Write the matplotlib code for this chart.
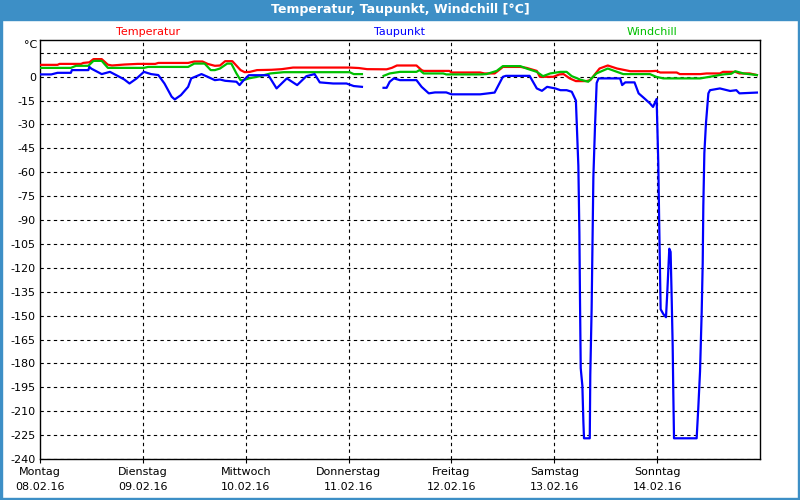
import numpy as np
import matplotlib.pyplot as plt
from matplotlib.patches import Rectangle

nan = np.nan

# Zeit in Tagen ab Montag 08.02.16 00:00
days = ["Montag", "Dienstag", "Mittwoch", "Donnerstag", "Freitag", "Samstag", "Sonntag"]
dates = ["08.02.16", "09.02.16", "10.02.16", "11.02.16", "12.02.16", "13.02.16", "14.02.16"]

temp_t = [0, 0.17, 0.19, 0.40, 0.42, 0.48, 0.52, 0.60, 0.66, 0.70, 0.82, 0.95, 1.12, 1.15,
          1.44, 1.50, 1.58, 1.63, 1.70, 1.75, 1.80, 1.87, 1.95, 1.99, 2.04, 2.11, 2.25, 2.35,
          2.46, 3.01, 3.10, 3.18, 3.37, 3.42, 3.47, 3.66, 3.71, 3.73, 3.98, 4.00, 4.28, 4.32,
          4.42, 4.48, 4.50, 4.67, 4.73, 4.83, 4.86, 4.99, 5.05, 5.09, 5.15, 5.21, 5.31, 5.35,
          5.44, 5.52, 5.61, 5.74, 5.93, 5.99, 6.03, 6.19, 6.22, 6.42, 6.48, 6.61, 6.64, 6.76,
          6.80, 6.90, 6.97]
temp = [7.4, 7.4, 8.0, 8.0, 8.6, 9.0, 11.0, 11.0, 7.5, 7.0, 7.6, 8.0, 8.0, 8.6,
        8.6, 9.5, 9.5, 8.0, 6.8, 7.0, 9.7, 9.7, 4.1, 2.8, 3.0, 4.1, 4.3, 4.7,
        5.7, 5.7, 5.4, 4.7, 4.6, 5.5, 7.0, 7.0, 4.1, 3.6, 3.6, 2.6, 2.6, 2.0,
        2.0, 5.0, 6.1, 6.1, 5.5, 3.6, -0.1, -0.1, 1.4, 1.6, -1.1, -2.8, -2.8, -2.2,
        5.1, 7.0, 5.1, 3.4, 3.4, 3.6, 2.6, 2.6, 1.6, 1.6, 2.0, 2.0, 3.0, 3.0,
        2.0, 2.0, 1.0]

dew_t = [0, 0.11, 0.17, 0.30, 0.31, 0.47, 0.48, 0.50, 0.60, 0.68, 0.76, 0.82, 0.87, 0.94,
         1.01, 1.08, 1.15, 1.21, 1.28, 1.31, 1.37, 1.44, 1.47, 1.57, 1.63, 1.70, 1.75, 1.80,
         1.91, 1.94, 1.98, 2.03, 2.22, 2.25, 2.30, 2.40, 2.50, 2.59, 2.67, 2.72, 2.85, 2.98,
         3.05, 3.13, 3.20, 3.34, 3.37, 3.40, 3.44, 3.50, 3.66, 3.71, 3.78, 3.84, 3.95, 4.00,
         4.28, 4.42, 4.50, 4.53, 4.76, 4.83, 4.88, 4.93, 5.01, 5.06, 5.12, 5.17, 5.21, 5.234,
         5.244, 5.250, 5.257, 5.273, 5.283, 5.289, 5.345, 5.350, 5.363, 5.380, 5.396, 5.412, 5.43,
         5.61, 5.64, 5.66, 5.69, 5.78, 5.82, 5.87, 5.93, 5.96, 5.995, 6.011, 6.021, 6.034,
         6.060, 6.086, 6.099, 6.118, 6.131, 6.141, 6.151, 6.157, 6.164, 6.384, 6.400, 6.417,
         6.433, 6.443, 6.449, 6.459, 6.475, 6.498, 6.514, 6.61, 6.71, 6.77, 6.80, 6.90, 6.97]
dew = [1.4, 1.4, 2.4, 2.4, 4.1, 4.1, 6.1, 5.0, 1.6, 3.0, 0.3, -1.8, -4.3, -1.1,
       3.0, 1.6, 1.0, -4.3, -12.6, -14.3, -11.6, -6.4, -1.1, 1.6, -0.1, -2.2, -1.8, -2.6,
       -3.2, -5.3, -2.2, 0.9, 0.9, -2.2, -7.4, -1.1, -5.3, 0.3, 1.6, -3.6, -4.3, -4.3,
       -5.9, -6.4, nan, -7.0, -7.0, -3.2, -1.1, -2.2, -2.2, -6.4, -10.5, -9.9, -9.9, -11.1,
       -11.1, -10.0, -0.1, 0.5, 0.5, -7.4, -8.9, -6.4, -7.4, -8.5, -8.5, -9.5, -15, -56,
       -98, -140, -183, -194, -217, -227, -227, -187, -146, -63, -31, -4, -1.1,
       -1.1, -1.1, -5.3, -3.6, -3.6, -10.5, -13.3, -16.8, -19, -14, -54, -96, -146,
       -149, -151, -135, -108, -110, -138, -169, -198, -227, -227, -208, -185,
       -148, -117, -81, -48, -29, -10.5, -8.5, -7.4, -9.0, -8.5, -10.5, -10.2, -10.0]

chill_t = [0, 0.30, 0.35, 0.47, 0.52, 0.60, 0.66, 1.01, 1.05, 1.44, 1.50, 1.60, 1.66, 1.70,
           1.75, 1.82, 1.86, 1.91, 1.95, 1.98, 2.03, 2.14, 2.24, 2.37, 3.01, 3.05, 3.13, 3.20,
           3.34, 3.40, 3.50, 3.66, 3.69, 3.73, 3.92, 3.95, 4.28, 4.34, 4.44, 4.50, 4.67, 4.73,
           4.83, 4.89, 4.96, 5.06, 5.12, 5.17, 5.25, 5.33, 5.41, 5.52, 5.61, 5.67, 5.93, 5.99,
           6.06, 6.42, 6.51, 6.64, 6.72, 6.76, 6.84, 6.97]
chill = [5.5, 5.5, 6.8, 6.8, 9.9, 9.9, 5.5, 5.5, 6.1, 6.1, 8.2, 8.2, 4.1, 4.1,
         5.1, 8.2, 8.2, 2.0, -2.2, -2.2, -1.1, 0.3, 2.0, 2.8, 2.8, 1.6, 1.6, nan,
         0.5, 2.0, 3.0, 3.0, 4.1, 2.0, 2.0, 1.4, 1.4, 1.6, 3.6, 6.6, 6.6, 5.1,
         3.0, 0.3, 2.0, 3.0, 3.0, 0.3, -1.8, -3.2, 2.0, 5.1, 3.0, 1.6, 1.6, -0.1,
         -1.1, -1.1, -0.1, 1.4, 1.8, 3.4, 2.0, 1.0]

y_ticks = list(range(0, -241, -15))

fig = plt.figure(figsize=(8, 5), dpi=100, facecolor="white")

# Fensterrahmen und Titelleiste
blue = "#3d8fc6"
fig.patches.append(Rectangle((0, 0.96), 1, 0.04, transform=fig.transFigure, color=blue, zorder=0))
fig.patches.append(Rectangle((0, 0), 0.003, 1, transform=fig.transFigure, color=blue, zorder=0))
fig.patches.append(Rectangle((0.997, 0), 0.003, 1, transform=fig.transFigure, color=blue, zorder=0))
fig.patches.append(Rectangle((0, 0), 1, 0.005, transform=fig.transFigure, color=blue, zorder=0))
fig.text(0.5, 0.98, "Temperatur, Taupunkt, Windchill [°C]", color="white",
         fontsize=9, fontweight="bold", ha="center", va="center")

ax = fig.add_axes([0.05, 0.082, 0.90, 0.838])
ax.plot(temp_t, temp, color="#ff0000", lw=1.6, zorder=3)
ax.plot(chill_t, chill, color="#00c000", lw=1.6, zorder=4)
ax.plot(dew_t, dew, color="#0000ff", lw=1.6, zorder=5)

ax.set_xlim(0, 7)
ax.set_ylim(-240, 23)

# Gitter
for d in range(1, 7):
    ax.axvline(d, color="black", lw=0.8, ls=(0, (3, 3)), zorder=1)
for v in [15] + y_ticks:
    ax.axhline(v, color="black", lw=0.8, ls=(0, (3, 3)), zorder=1)

ax.set_yticks(y_ticks)
ax.set_yticklabels([str(v) for v in y_ticks], fontsize=8)
ax.tick_params(axis="y", length=0, pad=3)
ax.set_xticks(range(7))
ax.set_xticklabels([f"{d}\n{dt}" for d, dt in zip(days, dates)], fontsize=8, linespacing=1.6)
ax.tick_params(axis="x", length=3, pad=3)
for s in ax.spines.values():
    s.set_linewidth(1.0)

fig.text(0.046, 0.91, "°C", fontsize=8, ha="right", va="center")
fig.text(0.185, 0.936, "Temperatur", color="#ff0000", fontsize=8, ha="center", va="center")
fig.text(0.5, 0.936, "Taupunkt", color="#0000ff", fontsize=8, ha="center", va="center")
fig.text(0.815, 0.936, "Windchill", color="#00c000", fontsize=8, ha="center", va="center")

fig.savefig("out.png", dpi=100, facecolor="white")
